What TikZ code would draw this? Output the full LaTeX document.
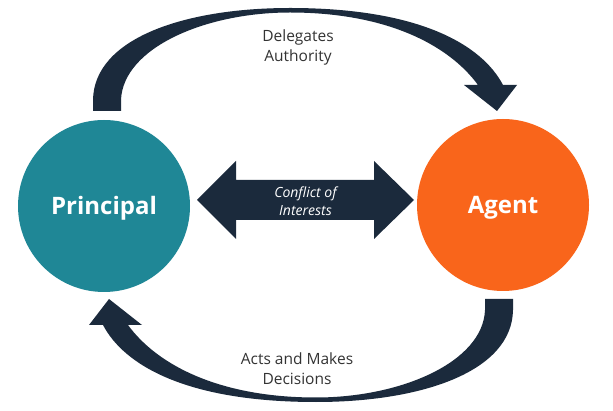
\documentclass[tikz,border=0pt]{standalone}
\usepackage{fontspec}
\setmainfont{Open Sans}
\definecolor{teal}{HTML}{1F8796}
\definecolor{agentorange}{HTML}{F9651B}
\definecolor{navy}{HTML}{1B2A3C}
\definecolor{labelgray}{HTML}{333333}
\begin{document}
\begin{tikzpicture}[x=1pt,y=-1pt,
  party/.style={circle,minimum size=172pt,inner sep=0pt,text=white,text height=17pt,text depth=0pt,font=\fontsize{24}{28}\selectfont\bfseries},
  flowlabel/.style={text=labelgray,align=center,font=\fontsize{15.5}{20}\selectfont},
  conflictlabel/.style={text=white,align=center,font=\fontsize{14}{18}\selectfont\itshape},
  bigarrow/.style={fill=navy}]
\useasboundingbox (0,0) rectangle (613,411);
\fill[white] (0,0) rectangle (613,411);
% circles
\node[party,fill=teal] (principal) at (104,206) {Principal};
\node[party,fill=agentorange] (agent) at (503,205) {Agent};
% top crescent arrow: Principal -> Agent
\fill[bigarrow] (93,111) -- (93,100) .. controls (94,38) and (185,8) .. (290,8)
  .. controls (420,8) and (482,45) .. (503,85) -- (517,85) -- (497,111) -- (464,85) -- (478,85)
  .. controls (448,44) and (385,12.5) .. (290,12.5)
  .. controls (205,12.5) and (123,48) .. (121,100) -- (121,111) -- cycle;
% bottom crescent arrow: Agent -> Principal
\begin{scope}[rotate around={180:(303,205)}]
\fill[bigarrow] (93,111) -- (93,100) .. controls (94,38) and (185,8) .. (290,8)
  .. controls (420,8) and (482,45) .. (503,85) -- (517,85) -- (497,111) -- (464,85) -- (478,85)
  .. controls (448,44) and (385,12.5) .. (290,12.5)
  .. controls (205,12.5) and (123,48) .. (121,100) -- (121,111) -- cycle;
\end{scope}
% central double arrow
\fill[bigarrow] (197,200) -- (236,161) -- (236,180) -- (374,180) -- (374,161) -- (414,200)
  -- (374,239) -- (374,220) -- (236,220) -- (236,239) -- cycle;
% labels
\node[conflictlabel] (conflict) at (305.5,201) {Conflict of\\Interests};
\node[flowlabel] (delegates) at (298,47) {Delegates\\Authority};
\node[flowlabel] (acts) at (297,369) {Acts and Makes\\Decisions};
\end{tikzpicture}
\end{document}
